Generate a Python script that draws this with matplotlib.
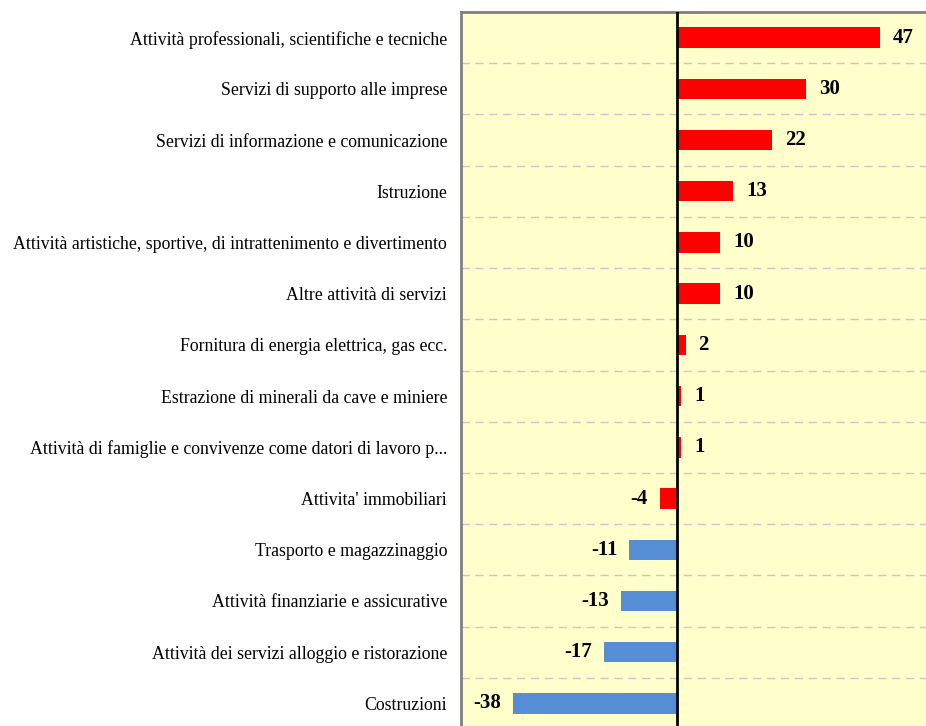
import matplotlib.pyplot as plt

# categories from top to bottom
categories = [
    "Attività professionali, scientifiche e tecniche",
    "Servizi di supporto alle imprese",
    "Servizi di informazione e comunicazione",
    "Istruzione",
    "Attività artistiche, sportive, di intrattenimento e divertimento",
    "Altre attività di servizi",
    "Fornitura di energia elettrica, gas ecc.",
    "Estrazione di minerali da cave e miniere",
    "Attività di famiglie e convivenze come datori di lavoro p...",
    "Attivita' immobiliari",
    "Trasporto e magazzinaggio",
    "Attività finanziarie e assicurative",
    "Attività dei servizi alloggio e ristorazione",
    "Costruzioni",
]
values = [47, 30, 22, 13, 10, 10, 2, 1, 1, -4, -11, -13, -17, -38]
# the last rows (from -11 down) are blue, the others red
colors = ["#FF0000"] * 10 + ["#558ED5"] * 4

plt.rcParams['font.family'] = ['Liberation Serif', 'DejaVu Serif']

fig = plt.figure(figsize=(9.26, 7.26), dpi=100)
ax = fig.add_axes([461 / 926, -3 / 726, 475 / 926, 717 / 726])
ax.set_facecolor("#FFFFCC")

ypos = list(range(len(categories)))
ax.barh(ypos, values, height=0.4, color=colors, zorder=3)
ax.set_ylim(len(categories) - 0.5, -0.5)
ax.set_xlim(-50, 60)

# dashed separators between rows
for i in range(len(categories) - 1):
    ax.axhline(i + 0.5, color="#C8C8C8", linestyle=(0, (6, 4)), linewidth=1, zorder=1)

ax.axvline(0, color="black", linewidth=2, zorder=4)

for y, v in zip(ypos, values):
    if v >= 0:
        ax.text(v + 3, y, str(v), va="center", ha="left", fontsize=15, fontweight="bold")
    else:
        ax.text(v - 2.7, y, str(v), va="center", ha="right", fontsize=15, fontweight="bold")

ax.set_yticks(ypos)
ax.set_yticklabels(categories, fontsize=12.8)
ax.tick_params(axis="y", length=0, pad=10)
ax.set_xticks([])

for s in ["right", "bottom"]:
    ax.spines[s].set_visible(False)
for s in ["left", "top"]:
    ax.spines[s].set_color("#808080")
    ax.spines[s].set_linewidth(2)

fig.savefig("out.png", dpi=100)
